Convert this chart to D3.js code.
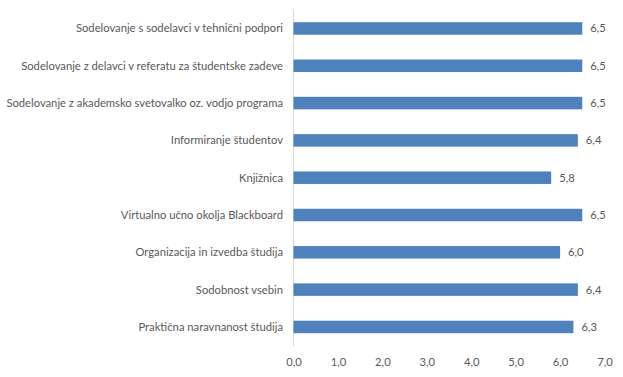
<!DOCTYPE html>
<html><head><meta charset="utf-8">
<script src="https://cdn.jsdelivr.net/npm/d3@7"></script>
<style>body{margin:0;background:#fff}svg{display:block}text{font-family:Lato,"Noto Sans",sans-serif;fill:#595959}</style>
</head><body><svg id="c" width="623" height="377"></svg>
<script>
const categories = [
  "Sodelovanje s sodelavci v tehnični podpori",
  "Sodelovanje z delavci v referatu za študentske zadeve",
  "Sodelovanje z akademsko svetovalko oz. vodjo programa",
  "Informiranje študentov",
  "Knjižnica",
  "Virtualno učno okolja Blackboard",
  "Organizacija in izvedba študija",
  "Sodobnost vsebin",
  "Praktična naravnanost študija"
];
const values = [6.5, 6.5, 6.5, 6.4, 5.8, 6.5, 6.0, 6.4, 6.3];
const valueLabels = ["6,5","6,5","6,5","6,4","5,8","6,5","6,0","6,4","6,3"];
const tickValues = [0,1,2,3,4,5,6,7];
const tickLabels = ["0,0","1,0","2,0","3,0","4,0","5,0","6,0","7,0"];

const svg = d3.select("#c");
const x = d3.scaleLinear().domain([0,7]).range([293.5,604.5]);
const y = d3.scaleBand().domain(categories).range([9.8,345.6]).paddingInner(0.665).paddingOuter(0.3325);

svg.append("line").attr("x1",x(0)).attr("x2",x(0)).attr("y1",9).attr("y2",346)
  .attr("stroke","#d9d9d9").attr("stroke-width",1);

svg.selectAll("rect.bar").data(values).join("rect").attr("class","bar")
  .attr("x",x(0)).attr("y",(d,i)=>y(categories[i]))
  .attr("width",d=>x(d)-x(0)).attr("height",y.bandwidth())
  .attr("fill","#4F81BD");

const cats = svg.selectAll("text.cat").data(categories).join("text").attr("class","cat")
  .attr("x",283).attr("y",d=>y(d)+y.bandwidth()/2).attr("dy","0.35em")
  .attr("text-anchor","end").attr("font-size","12px").text(d=>d);
let maxW = d3.max(cats.nodes(), n=>n.getComputedTextLength());
const fs = Math.min(13, 12*277/maxW);
cats.attr("font-size", fs+"px");

svg.selectAll("text.val").data(values).join("text").attr("class","val")
  .attr("x",d=>x(d)+8).attr("y",(d,i)=>y(categories[i])+y.bandwidth()/2)
  .attr("dy","0.35em").attr("font-size",fs+"px").text((d,i)=>valueLabels[i]);

const ax = svg.append("g").attr("transform","translate(0,355)")
  .call(d3.axisBottom(x).tickValues(tickValues).tickSize(0).tickFormat((d,i)=>tickLabels[i]));
ax.select(".domain").remove();
ax.selectAll("text").attr("font-size",fs+"px").style("font-family",'Lato,"Noto Sans",sans-serif').attr("fill","#595959");
</script></body></html>
